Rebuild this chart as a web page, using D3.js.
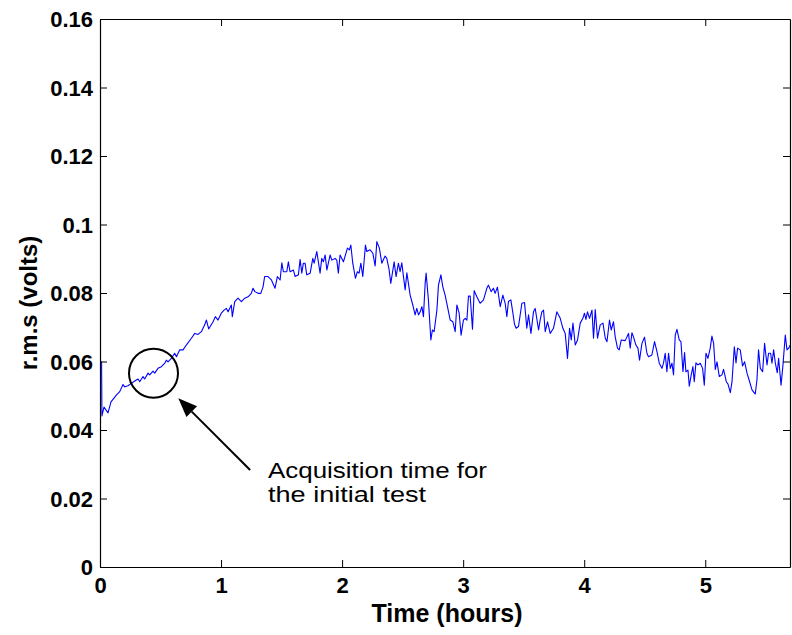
<!DOCTYPE html>
<html>
<head>
<meta charset="utf-8">
<script src="https://cdn.jsdelivr.net/npm/d3@7"></script>
<style>
  html, body { margin: 0; padding: 0; background: #fff; }
  svg { display: block; font-family: "Liberation Sans", Arial, sans-serif; }
</style>
</head>
<body>
<svg id="chart" width="792" height="635"></svg>
<script>
// Time (hours)
const timeHours = [
  0.013, 0.016, 0.033, 0.066, 0.091, 0.135, 0.163, 0.190, 0.204, 0.231, 0.259, 0.287, 0.314, 0.328, 0.355, 0.369,
  0.397, 0.411, 0.438, 0.452, 0.479, 0.507, 0.535, 0.548, 0.562, 0.589, 0.617, 0.631, 0.659, 0.686, 0.713, 0.755,
  0.783, 0.810, 0.837, 0.865, 0.879, 0.898, 0.934, 0.953, 0.975, 1.002, 1.025, 1.044, 1.058, 1.085, 1.093, 1.113,
  1.140, 1.168, 1.196, 1.223, 1.250, 1.264, 1.279, 1.306, 1.328, 1.347, 1.360, 1.388, 1.416,
  1.446, 1.465, 1.488, 1.502, 1.515, 1.543, 1.556, 1.570, 1.598, 1.612, 1.639, 1.653, 1.667, 1.680, 1.694, 1.708,
  1.736, 1.758, 1.769, 1.791, 1.818, 1.832, 1.845, 1.860, 1.874, 1.901, 1.915, 1.942, 1.956, 1.969, 1.983, 2.011,
  2.044, 2.060, 2.072, 2.088, 2.110, 2.126, 2.140, 2.155, 2.171, 2.193, 2.204, 2.231, 2.254, 2.273, 2.287, 2.308,
  2.328, 2.355, 2.369, 2.388, 2.402, 2.430, 2.446, 2.465, 2.479, 2.493, 2.507, 2.521, 2.535, 2.562, 2.584, 2.603,
  2.617, 2.631, 2.645, 2.659, 2.672, 2.686, 2.694, 2.713, 2.733, 2.746, 2.760, 2.783, 2.796, 2.816, 2.832, 2.851,
  2.865, 2.893, 2.915, 2.934, 2.948, 2.967, 2.983, 3.002, 3.017, 3.031, 3.044, 3.058, 3.077, 3.091, 3.113, 3.140,
  3.168, 3.196, 3.209, 3.231, 3.250, 3.264, 3.283, 3.306, 3.328, 3.347, 3.361, 3.374, 3.394, 3.411, 3.424, 3.438,
  3.457, 3.485, 3.507, 3.526, 3.540, 3.560, 3.581, 3.595, 3.623, 3.636, 3.650, 3.664, 3.678, 3.697, 3.719, 3.746,
  3.774, 3.788, 3.802, 3.824, 3.843, 3.862, 3.879, 3.893, 3.907, 3.926, 3.945, 3.967, 3.989, 4.002, 4.014, 4.027,
  4.044, 4.064, 4.077, 4.091, 4.110, 4.132, 4.155, 4.174, 4.188, 4.209, 4.223, 4.242, 4.256, 4.275, 4.289,
  4.306, 4.339, 4.366, 4.380, 4.394, 4.407, 4.427, 4.444, 4.457, 4.477, 4.498, 4.518, 4.531, 4.559, 4.581, 4.601,
  4.620, 4.642, 4.655, 4.669, 4.683, 4.697, 4.711, 4.725, 4.738, 4.752, 4.766, 4.785, 4.799, 4.816, 4.829, 4.840,
  4.857, 4.868, 4.884, 4.898, 4.909, 4.923, 4.940, 4.959, 4.978, 4.992, 5.006, 5.022, 5.041, 5.055, 5.069, 5.083,
  5.097, 5.116, 5.138, 5.151, 5.174, 5.188, 5.207, 5.221, 5.240, 5.254, 5.267, 5.289, 5.308, 5.325, 5.345, 5.358,
  5.386, 5.413, 5.427, 5.440, 5.455, 5.474, 5.490, 5.510, 5.523, 5.540, 5.551, 5.565, 5.579, 5.595, 5.606, 5.626,
  5.642, 5.661, 5.675, 5.689, 5.702
];
// r.m.s (volts)
const rmsVolts = [
  0.0601, 0.0441, 0.0467, 0.0450, 0.0482, 0.0502, 0.0512, 0.0533, 0.0526, 0.0529, 0.0536, 0.0543, 0.0549, 0.0541, 0.0556, 0.0549,
  0.0566, 0.0561, 0.0572, 0.0566, 0.0580, 0.0585, 0.0595, 0.0604, 0.0599, 0.0609, 0.0624, 0.0614, 0.0634, 0.0634, 0.0648, 0.0668,
  0.0682, 0.0679, 0.0687, 0.0707, 0.0721, 0.0695, 0.0716, 0.0731, 0.0721, 0.0741, 0.0750, 0.0755, 0.0745, 0.0765, 0.0731, 0.0775,
  0.0785, 0.0775, 0.0785, 0.0789, 0.0799, 0.0814, 0.0804, 0.0799, 0.0799, 0.0818, 0.0848, 0.0848, 0.0838,
  0.0814, 0.0848, 0.0838, 0.0888, 0.0862, 0.0862, 0.0891, 0.0862, 0.0867, 0.0848, 0.0853, 0.0898, 0.0858, 0.0887, 0.0887, 0.0853,
  0.0858, 0.0901, 0.0887, 0.0921, 0.0858, 0.0901, 0.0891, 0.0911, 0.0867, 0.0911, 0.0896, 0.0901, 0.0896, 0.0858, 0.0911, 0.0891,
  0.0931, 0.0926, 0.0940, 0.0887, 0.0843, 0.0862, 0.0858, 0.0887, 0.0848, 0.0940, 0.0921, 0.0926, 0.0916, 0.0879, 0.0950, 0.0931,
  0.0887, 0.0908, 0.0901, 0.0869, 0.0828, 0.0891, 0.0848, 0.0887, 0.0862, 0.0888, 0.0848, 0.0809, 0.0859, 0.0794, 0.0765, 0.0736,
  0.0755, 0.0736, 0.0745, 0.0760, 0.0731, 0.0828, 0.0858, 0.0780, 0.0663, 0.0692, 0.0687, 0.0750, 0.0823, 0.0853, 0.0818, 0.0794,
  0.0770, 0.0721, 0.0716, 0.0687, 0.0765, 0.0741, 0.0677, 0.0721, 0.0726, 0.0721, 0.0791, 0.0791, 0.0694, 0.0807, 0.0789, 0.0770,
  0.0780, 0.0814, 0.0823, 0.0804, 0.0814, 0.0799, 0.0817, 0.0760, 0.0794, 0.0770, 0.0731, 0.0775, 0.0780, 0.0741, 0.0709, 0.0697,
  0.0702, 0.0770, 0.0772, 0.0697, 0.0736, 0.0682, 0.0745, 0.0755, 0.0692, 0.0721, 0.0745, 0.0750, 0.0687, 0.0716, 0.0682, 0.0697,
  0.0745, 0.0736, 0.0726, 0.0697, 0.0682, 0.0609, 0.0697, 0.0663, 0.0712, 0.0648, 0.0663, 0.0712, 0.0726, 0.0741, 0.0723, 0.0745,
  0.0726, 0.0750, 0.0668, 0.0752, 0.0668, 0.0707, 0.0712, 0.0668, 0.0658, 0.0721, 0.0692, 0.0716, 0.0672, 0.0639, 0.0634,
  0.0663, 0.0661, 0.0682, 0.0639, 0.0684, 0.0672, 0.0648, 0.0639, 0.0604, 0.0653, 0.0671, 0.0624, 0.0614, 0.0619, 0.0658, 0.0629,
  0.0595, 0.0580, 0.0595, 0.0624, 0.0570, 0.0624, 0.0580, 0.0595, 0.0561, 0.0677, 0.0694, 0.0663, 0.0658, 0.0570, 0.0626, 0.0570,
  0.0575, 0.0528, 0.0561, 0.0585, 0.0541, 0.0596, 0.0590, 0.0595, 0.0580, 0.0531, 0.0624, 0.0609, 0.0639, 0.0674, 0.0653, 0.0577,
  0.0599, 0.0556, 0.0561, 0.0577, 0.0541, 0.0534, 0.0509, 0.0541, 0.0643, 0.0596, 0.0639, 0.0634, 0.0587, 0.0599, 0.0566, 0.0551,
  0.0517, 0.0505, 0.0546, 0.0634, 0.0580, 0.0570, 0.0653, 0.0590, 0.0624, 0.0624, 0.0595, 0.0634, 0.0595, 0.0567, 0.0609, 0.0531,
  0.0590, 0.0677, 0.0634, 0.0639, 0.0648
];
const xTicks = [0, 1, 2, 3, 4, 5];
const yTicks = [0, 0.02, 0.04, 0.06, 0.08, 0.1, 0.12, 0.14, 0.16];
const xDomain = [0, 5.70];
const yDomain = [0, 0.16];
const xLabel = "Time (hours)";
const yLabel = "r.m.s (volts)";
const annotationLines = ["Acquisition time for", "the initial test"];
const annotationWidths = [219, 158];
const circleCenter = [0.442, 0.0566];
const arrowTail = [1.240, 0.0283];
const arrowTip = [0.647, 0.0493];
const textAnchor = [1.388, 0.0261];

const svg = d3.select("#chart");
const L = 100, R = 790, T = 19, B = 567;
const x = d3.scaleLinear().domain(xDomain).range([L, R]);
const y = d3.scaleLinear().domain(yDomain).range([B, T]);
const fmt = d => String(+d.toFixed(2));

svg.append("defs").append("clipPath").attr("id", "clip")
  .append("rect").attr("x", L).attr("y", T).attr("width", R - L).attr("height", B - T);

// data line
const data = timeHours.map((t, i) => [t, rmsVolts[i]]);
svg.append("path")
  .datum(data)
  .attr("clip-path", "url(#clip)")
  .attr("fill", "none")
  .attr("stroke", "#0000ff")
  .attr("stroke-width", 1.1)
  .attr("stroke-linejoin", "round")
  .attr("d", d3.line().x(d => x(d[0])).y(d => y(d[1])));

// axes (MATLAB style: inward ticks on all four sides)
const tickLen = 7;
const axB = svg.append("g").attr("transform", `translate(0,${B})`)
  .call(d3.axisBottom(x).tickValues(xTicks).tickFormat(d3.format("d")).tickSizeInner(-tickLen).tickSizeOuter(0).tickPadding(10));
const axT = svg.append("g").attr("transform", `translate(0,${T})`)
  .call(d3.axisTop(x).tickValues(xTicks).tickFormat("").tickSizeInner(-tickLen).tickSizeOuter(0));
const axL = svg.append("g").attr("transform", `translate(${L},0)`)
  .call(d3.axisLeft(y).tickValues(yTicks).tickFormat(fmt).tickSizeInner(-tickLen).tickSizeOuter(0).tickPadding(7));
const axR = svg.append("g").attr("transform", `translate(${R},0)`)
  .call(d3.axisRight(y).tickValues(yTicks).tickFormat("").tickSizeInner(-tickLen).tickSizeOuter(0));

[axB, axT, axL, axR].forEach(g => {
  g.select(".domain").attr("stroke", "#000").attr("stroke-width", 1.2);
  g.selectAll(".tick line").attr("stroke", "#000").attr("stroke-width", 1);
  g.selectAll("text").attr("fill", "#000").attr("font-size", 22).attr("font-weight", "bold")
    .attr("font-family", "'Liberation Sans', Arial, sans-serif");
});
axB.selectAll("text").attr("dy", "0.71em");
axL.selectAll("text").attr("dy", "0.36em");

// axis labels
svg.append("text")
  .attr("x", (L + R) / 2 + 2).attr("y", 622)
  .attr("text-anchor", "middle")
  .attr("font-size", 25).attr("font-weight", "bold").attr("fill", "#000")
  .text(xLabel);
svg.append("text")
  .attr("transform", `translate(37,${(T + B) / 2 + 10}) rotate(-90)`)
  .attr("text-anchor", "middle")
  .attr("font-size", 24).attr("font-weight", "bold").attr("fill", "#000")
  .text(yLabel);

// annotation circle
svg.append("circle")
  .attr("cx", x(circleCenter[0])).attr("cy", y(circleCenter[1]))
  .attr("r", 24.5)
  .attr("fill", "none").attr("stroke", "#000").attr("stroke-width", 2);

// arrow
const tx = x(arrowTail[0]), ty = y(arrowTail[1]);
const hx = x(arrowTip[0]), hy = y(arrowTip[1]);
const ang = Math.atan2(hy - ty, hx - tx);
const headLen = 19, headHalf = 7.5;
const bx = hx - headLen * Math.cos(ang), by = hy - headLen * Math.sin(ang);
svg.append("line")
  .attr("x1", tx).attr("y1", ty).attr("x2", bx).attr("y2", by)
  .attr("stroke", "#000").attr("stroke-width", 2);
svg.append("path")
  .attr("d", `M${hx},${hy} L${bx + headHalf * Math.sin(ang)},${by - headHalf * Math.cos(ang)} L${bx - headHalf * Math.sin(ang)},${by + headHalf * Math.cos(ang)} Z`)
  .attr("fill", "#000");

// annotation text
annotationLines.forEach((s, i) => {
  svg.append("text")
    .attr("x", x(textAnchor[0])).attr("y", y(textAnchor[1]) + i * 24)
    .attr("font-size", 22).attr("fill", "#000")
    .attr("textLength", annotationWidths[i]).attr("lengthAdjust", "spacingAndGlyphs")
    .text(s);
});
</script>
</body>
</html>
